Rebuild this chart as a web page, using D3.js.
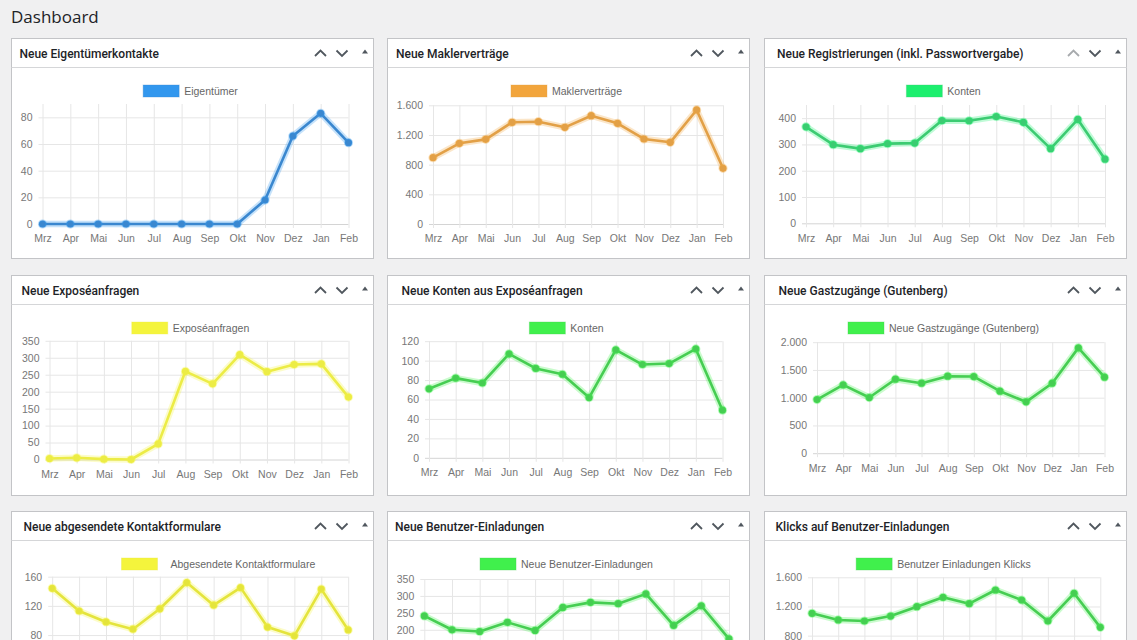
<!DOCTYPE html>
<html><head><meta charset="utf-8">
<script src="https://cdn.jsdelivr.net/npm/d3@7"></script>
<style>
html,body{margin:0;padding:0;background:#f0f0f1;overflow:hidden;}
svg{display:block;}
</style></head><body>
<svg id="c" width="1137" height="640"></svg>
<script>
// ---------- DATA ----------
const months = ["Mrz","Apr","Mai","Jun","Jul","Aug","Sep","Okt","Nov","Dez","Jan","Feb"];
const titles = [
  "Neue Eigentümerkontakte",
  "Neue Maklerverträge",
  "Neue Registrierungen (inkl. Passwortvergabe)",
  "Neue Exposéanfragen",
  "Neue Konten aus Exposéanfragen",
  "Neue Gastzugänge (Gutenberg)",
  "Neue abgesendete Kontaktformulare",
  "Neue Benutzer-Einladungen",
  "Klicks auf Benutzer-Einladungen"
];
const seriesLabels = [
  "Eigentümer",
  "Maklerverträge",
  "Konten",
  "Exposéanfragen",
  "Konten",
  "Neue Gastzugänge (Gutenberg)",
  "Abgesendete Kontaktformulare",
  "Neue Benutzer-Einladungen",
  "Benutzer Einladungen Klicks"
];
const eigentuemer      = [0,0,0,0,0,0,0,0,18,66,83,61];
const maklervertraege  = [894,1088,1141,1371,1379,1303,1460,1357,1146,1101,1537,751];
const registrierungen  = [367,299,284,303,305,391,390,406,384,284,395,244];
const exposeanfragen   = [3,5,1,0,46,260,223,309,259,280,282,184];
const kontenExpose     = [71,82,77,107,92,86,62,111,96,97,112,49];
const gastzugaenge     = [967,1231,1003,1333,1261,1387,1381,1117,925,1261,1898,1369];
const kontaktformulare = [144,113,98,88,116,152,121,145,91,79,143,87];
const einladungen      = [241,200,195,222,198,266,281,277,306,213,271,173];
const einladungKlicks  = [1106,1015,1001,1069,1197,1326,1238,1426,1289,1001,1381,914];
const seriesValues = [eigentuemer, maklervertraege, registrierungen, exposeanfragen, kontenExpose,
                      gastzugaenge, kontaktformulare, einladungen, einladungKlicks];
const yTicks = [
  [0,20,40,60,80],
  [0,400,800,1200,1600],
  [0,100,200,300,400],
  [0,50,100,150,200,250,300,350],
  [0,20,40,60,80,100,120],
  [0,500,1000,1500,2000],
  [0,40,80,120,160],
  [0,50,100,150,200,250,300,350],
  [0,400,800,1200,1600]
];
const yMax = [90,1600,450,350,120,2000,160,350,1600];

// ---------- STYLE / LAYOUT ----------
const lineColors   = ["#3a87cf","#e2a047","#3ccb72","#ecec46","#46cd52","#46cd52","#e4e43c","#46cd52","#46cd52"];
const legendColors = ["#3297ee","#f2a53c","#1cef6e","#f4f43c","#40f04c","#40f04c","#f4f43c","#40f04c","#40f04c"];
// plot box inside each panel: [left, right, top, bottom]
const plotBoxes = [
  [31,337,65.5,185.5],
  [45.5,335.5,66.8,185.5],
  [41.5,340.5,66.5,184.8],
  [38,337,65.3,184],
  [41.5,335,65.7,182.3],
  [52.5,340,66.7,177.7],
  [40.7,336.7,65.2,181.9],
  [36.8,341.5,67.5,186],
  [47.5,335.8,65.8,182.5]
];
const titleX = [8,8.5,12.5,10,14,14,12,7.5,11];
const colX = [11.5,387.5,764.5];
const rowY = [38.5,275.5,511.5];
const panelW = 362, panelH = 220, headerH = 29;
const viewH = 640;

const de = d3.formatLocale({decimal:",", thousands:".", grouping:[3], currency:["","€"]});
const fmt = de.format(",d");

const svg = d3.select("#c");
svg.append("text").attr("x",11).attr("y",23)
  .attr("font-family","'Open Sans','Noto Sans',sans-serif").attr("font-size",17)
  .attr("fill","#1d2327").text("Dashboard");

titles.forEach((title,i)=>{
  const col=i%3,row=Math.floor(i/3);
  const oy = rowY[row];
  const g = svg.append("g").attr("transform",`translate(${colX[col]},${oy})`);
  g.append("rect").attr("x",0).attr("y",0).attr("width",panelW).attr("height",panelH)
    .attr("fill","#fff").attr("stroke","#c3c4c7");
  g.append("line").attr("x1",0).attr("x2",panelW).attr("y1",headerH).attr("y2",headerH)
    .attr("stroke","#d5d6d8");
  g.append("text").attr("x",titleX[i]).attr("y",headerH/2+0.5).attr("dy","0.35em")
    .attr("font-family","Roboto,'Open Sans',sans-serif").attr("font-weight",500)
    .attr("font-size",12).attr("fill","#1d2327").text(title);
  // header icons
  const ic = g.append("g").attr("transform",`translate(0,${headerH/2})`);
  const upCol = (i===2) ? "#a7aaad" : "#50575e";
  ic.append("path").attr("d","M303.5,3 L309,-2.5 L314.5,3").attr("fill","none")
    .attr("stroke",upCol).attr("stroke-width",1.8);
  ic.append("path").attr("d","M325,-2.5 L330.5,3 L336,-2.5").attr("fill","none")
    .attr("stroke","#50575e").attr("stroke-width",1.8);
  ic.append("path").attr("d","M350.5,0.5 L356.5,0.5 L353.5,-3.5 Z").attr("fill","#50575e");

  // chart
  const [L,R,T,B] = plotBoxes[i];
  const x = d3.scalePoint().domain(months).range([L,R]);
  const y = d3.scaleLinear().domain([0,yMax[i]]).range([B,T]);
  const vals = seriesValues[i];

  // y axis with gridlines
  const ya = g.append("g").attr("transform",`translate(${L},0)`)
    .call(d3.axisLeft(y).tickValues(yTicks[i]).tickFormat(fmt)
      .tickSizeInner(-(R-L)).tickSizeOuter(0).tickPadding(10));
  ya.select(".domain").remove();
  ya.selectAll(".tick line").attr("x1",-4).attr("stroke",d=>d===0?"#d4d4d4":"#e6e6e6");
  ya.selectAll(".tick text").attr("fill","#777").attr("font-size",10.5)
    .attr("font-family","'Liberation Sans',Arial,sans-serif");
  // labels that fall below the visible window are not shown in the screenshot
  ya.selectAll(".tick text").filter(d=>oy+y(d)+4>viewH).remove();

  const xa = g.append("g").attr("transform",`translate(0,${B})`)
    .call(d3.axisBottom(x).tickSizeInner(-(B-T)).tickSizeOuter(0).tickPadding(11));
  xa.select(".domain").remove();
  xa.selectAll(".tick line").attr("y1",4).attr("stroke","#e6e6e6");
  xa.selectAll(".tick text").attr("fill","#777").attr("font-size",10.5)
    .attr("font-family","'Liberation Sans',Arial,sans-serif");
  if (oy+B+20>viewH) xa.selectAll(".tick text").remove();

  // legend
  const lg = g.append("g");
  const lt = lg.append("text").attr("y",52.5).attr("dy","0.35em")
    .attr("font-family","'Liberation Sans',Arial,sans-serif").attr("font-size",10.5)
    .attr("fill","#666").text(seriesLabels[i]);
  const tw = lt.node().getComputedTextLength();
  const gap = (i===6) ? 13 : 5;
  const boxW = 36;
  const bx = (i===6) ? 110 : 179 - (boxW+gap+tw)/2;
  lg.append("rect").attr("x",bx).attr("y",46.5).attr("width",boxW).attr("height",12)
    .attr("fill",legendColors[i]).attr("stroke",lineColors[i]).attr("stroke-opacity",0.35);
  lt.attr("x",bx+boxW+gap);

  // line
  const line = d3.line().x((d,k)=>x(months[k])).y(d=>y(d));
  g.append("path").datum(vals).attr("d",line).attr("fill","none")
    .attr("stroke",legendColors[i]).attr("stroke-opacity",0.28).attr("stroke-width",6.5)
    .attr("stroke-linejoin","round");
  g.append("path").datum(vals).attr("d",line).attr("fill","none")
    .attr("stroke",lineColors[i]).attr("stroke-width",2.6).attr("stroke-linejoin","round");
  g.selectAll(".pt").data(vals).join("circle")
    .attr("cx",(d,k)=>x(months[k])).attr("cy",d=>y(d)).attr("r",3.6)
    .attr("fill",lineColors[i]).attr("stroke",legendColors[i]).attr("stroke-opacity",0.35)
    .attr("stroke-width",2);
});
</script>
</body></html>
